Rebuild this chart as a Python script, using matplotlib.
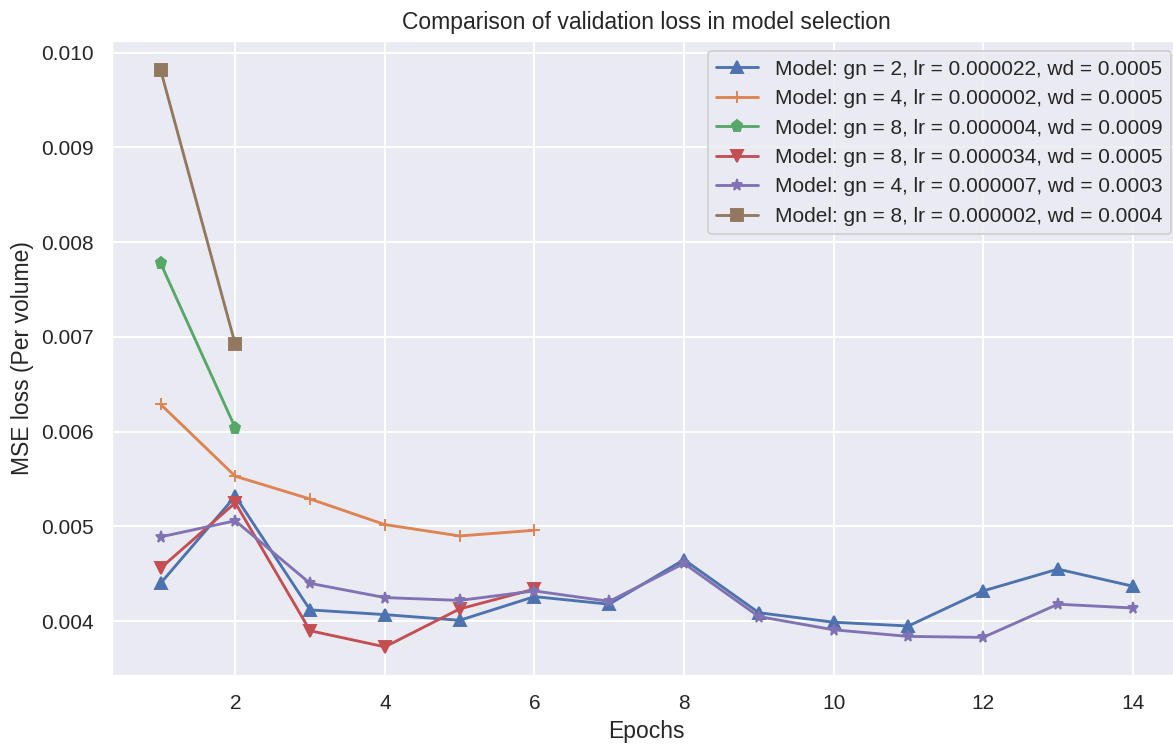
import numpy as np
import seaborn as sns
from matplotlib import pyplot as plt

# validation loss per epoch for each model run
loss_gn2_lr22 = [0.00440, 0.00532, 0.00412, 0.00407, 0.00401, 0.00426, 0.00418,
                 0.00465, 0.00409, 0.00399, 0.00395, 0.00432, 0.00455, 0.00437]
loss_gn4_lr2 = [0.00629, 0.00553, 0.00529, 0.00502, 0.00490, 0.00496]
loss_gn8_lr4 = [0.00778, 0.00604]
loss_gn8_lr34 = [0.00456, 0.00525, 0.00390, 0.00373, 0.00413, 0.00434]
loss_gn4_lr7 = [0.00489, 0.00506, 0.00440, 0.00425, 0.00422, 0.00432, 0.00421,
                0.00461, 0.00405, 0.00391, 0.00384, 0.00383, 0.00418, 0.00414]
loss_gn8_lr2 = [0.00982, 0.00692]

labels = ["Model: gn = 2, lr = 0.000022, wd = 0.0005",
          "Model: gn = 4, lr = 0.000002, wd = 0.0005",
          "Model: gn = 8, lr = 0.000004, wd = 0.0009",
          "Model: gn = 8, lr = 0.000034, wd = 0.0005",
          "Model: gn = 4, lr = 0.000007, wd = 0.0003",
          "Model: gn = 8, lr = 0.000002, wd = 0.0004"]
markers = ['^', '+', 'p', 'v', '*', 's']

sns.set_theme(style="darkgrid")
plt.rcParams['font.family'] = ['Liberation Sans', 'DejaVu Sans']

dpi = 137
fig = plt.figure(figsize=(1173/dpi, 745/dpi), dpi=dpi)
ax = fig.add_axes([0.0954, 0.0930, 0.9117, 0.8523])

series = [loss_gn2_lr22, loss_gn4_lr2, loss_gn8_lr4, loss_gn8_lr34, loss_gn4_lr7, loss_gn8_lr2]
for loss, lab, mk in zip(series, labels, markers):
    ep = np.arange(1, len(loss)+1)
    ax.plot(ep, loss, marker=mk, label=lab)

ax.set_title('Comparison of validation loss in model selection')
ax.set_xlabel('Epochs')
ax.set_ylabel('MSE loss (Per volume)')
ax.legend(loc='upper right')

fig.savefig('out.png', dpi=dpi)
